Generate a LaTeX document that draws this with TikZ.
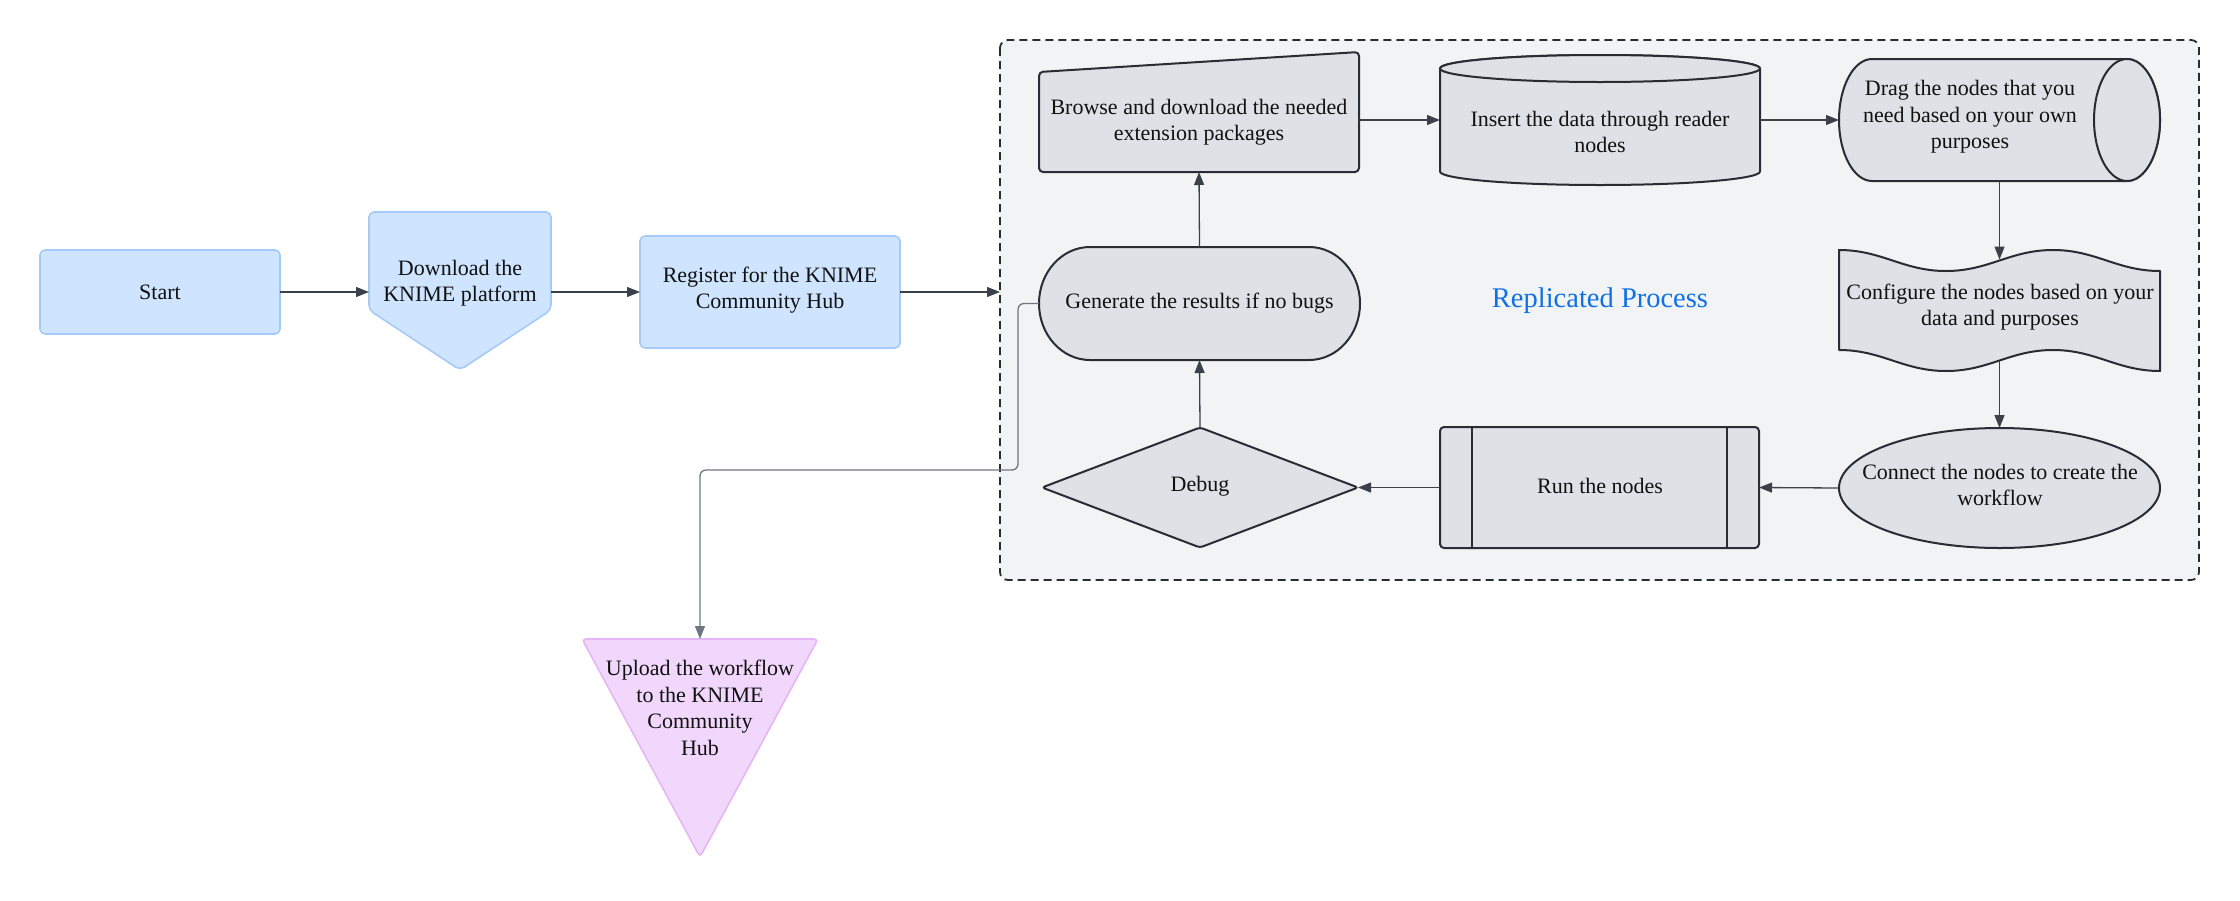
\documentclass[tikz,border=0pt]{standalone}
\usepackage{fontspec}
\setmainfont{Liberation Serif}
\usetikzlibrary{arrows.meta,calc}
\definecolor{bfill}{HTML}{CFE4FF}
\definecolor{bdraw}{HTML}{A6CAF7}
\definecolor{pfill}{HTML}{F2D7FC}
\definecolor{pdraw}{HTML}{E6B5F6}
\definecolor{gfill}{HTML}{DEE1E6}
\definecolor{gdraw}{HTML}{282C33}
\definecolor{cfill}{HTML}{F2F3F5}
\definecolor{arrowc}{HTML}{3A414A}
\definecolor{lightarr}{HTML}{6F7681}
\definecolor{txt}{HTML}{111111}
\definecolor{titleblue}{HTML}{1071E5}
\begin{document}
\begin{tikzpicture}[x=1pt,y=-1pt,
  lbl/.style={align=center, font=\fontsize{22}{26.5}\selectfont, text=txt, inner sep=0pt},
  sbox/.style={draw=none, fill=none, inner sep=0pt, outer sep=0pt, rectangle},
  arr/.style={draw=arrowc, line width=1.3pt, -{Triangle[length=13pt,width=10pt]}},
  garr/.style={draw=lightarr, line width=1.3pt, rounded corners=6pt, -{Triangle[length=13pt,width=10pt]}},
  gnode/.style={fill=gfill, draw=gdraw, line width=2pt, line join=round},
  bnode/.style={fill=bfill, draw=bdraw, line width=1.6pt, rounded corners=5pt},
  pnode/.style={fill=pfill, draw=pdraw, line width=1.6pt, rounded corners=4pt}]
\useasboundingbox (0,0) rectangle (2240,900);

% container
\node[sbox, minimum width=1199pt, minimum height=540pt] (proc) at (1599.5,310) {};
\draw[fill=cfill, draw=gdraw, line width=1.8pt, dash pattern=on 8pt off 5pt, rounded corners=8pt]
  (1000,40) rectangle (2199,580);
\node[font=\fontsize{28.5}{34}\selectfont, text=titleblue, inner sep=0pt] (title) at (1600,301) {Replicated Process};

% Start
\draw[bnode] (40,250) rectangle (280,334);
\node[sbox, minimum width=240pt, minimum height=84pt] (start) at (160,292) {};
\node[lbl] (startT) at (160,292) {Start};

% Download (pentagon)
\draw[bnode] (369,212) -- (551,212) -- (551,310) -- (460,370) -- (369,310) -- cycle;
\node[sbox, minimum width=182pt, minimum height=158pt] (dl) at (460,291) {};
\node[lbl] (dlT) at (460,283) {Download the\\KNIME platform};

% Register
\draw[bnode] (640,236) rectangle (900,348);
\node[sbox, minimum width=260pt, minimum height=112pt] (reg) at (770,292) {};
\node[lbl] (regT) at (770,290) {Register for the KNIME\\Community Hub};

% Browse (manual input)
\draw[gnode, rounded corners=4pt] (1039,72) -- (1359,52) -- (1359,172) -- (1039,172) -- cycle;
\node[sbox, minimum width=320pt, minimum height=120pt] (browse) at (1199,112) {};
\node[lbl] (browseT) at (1199,122) {Browse and download the needed\\extension packages};

% Insert (vertical cylinder)
\draw[gnode] (1440,68.5) -- (1440,171.5)
  .. controls (1440,179) and (1511.6,185) .. (1600,185)
  .. controls (1688.4,185) and (1760,179) .. (1760,171.5)
  -- (1760,68.5)
  .. controls (1760,61) and (1688.4,55) .. (1600,55)
  .. controls (1511.6,55) and (1440,61) .. (1440,68.5) -- cycle;
\draw[gnode] (1600,68.5) ellipse [x radius=160, y radius=13.5];
\node[sbox, minimum width=320pt, minimum height=130pt] (insert) at (1600,120) {};
\node[lbl] (insertT) at (1600,132) {Insert the data through reader\\nodes};

% Drag (horizontal cylinder)
\draw[gnode] (1872,59) -- (2127,59)
  .. controls (2145.2,59) and (2160,86.3) .. (2160,120)
  .. controls (2160,153.7) and (2145.2,181) .. (2127,181)
  -- (1872,181)
  .. controls (1853.8,181) and (1839,153.7) .. (1839,120)
  .. controls (1839,86.3) and (1853.8,59) .. (1872,59) -- cycle;
\draw[gnode] (2127,120) ellipse [x radius=33, y radius=61];
\node[sbox, minimum width=321pt, minimum height=122pt] (drag) at (1999.5,120) {};
\node[lbl] (dragT) at (1970,117) {Drag the nodes that you\\need based on your own\\purposes};

% Configure (tape)
\draw[gnode] (1839,250) .. controls (1882,250) and (1903,271) .. (1946,271)
  .. controls (1989,271) and (2010,250) .. (2053,250)
  .. controls (2096,250) and (2117,271) .. (2160,271)
  -- (2160,371)
  .. controls (2117,371) and (2096,350) .. (2053,350)
  .. controls (2010,350) and (1989,371) .. (1946,371)
  .. controls (1903,371) and (1882,350) .. (1839,350) -- cycle;
\node[sbox, minimum width=321pt, minimum height=121pt] (config) at (1999.5,310.5) {};
\coordinate (cfgtop) at (1999.5,259.5);
\coordinate (cfgbot) at (1999.5,360.5);
\node[lbl] (configT) at (2000,307) {Configure the nodes based on your\\data and purposes};

% Generate (rounded ends)
\draw[gnode] (1090,247) -- (1309,247)
  .. controls (1337.2,247) and (1360,272.3) .. (1360,303.5)
  .. controls (1360,334.7) and (1337.2,360) .. (1309,360)
  -- (1090,360)
  .. controls (1061.8,360) and (1039,334.7) .. (1039,303.5)
  .. controls (1039,272.3) and (1061.8,247) .. (1090,247) -- cycle;
\node[sbox, minimum width=321pt, minimum height=113pt] (gen) at (1199.5,303.5) {};
\node[lbl] (genT) at (1199.5,303) {Generate the results if no bugs};

% Debug (diamond)
\draw[gnode, rounded corners=3pt] (1200,427.5) -- (1358,487.5) -- (1200,547.5) -- (1042,487.5) -- cycle;
\node[sbox, minimum width=316pt, minimum height=120pt] (debug) at (1200,487.5) {};
\node[lbl] (debugT) at (1200,486) {Debug};

% Run (predefined process)
\draw[gnode, rounded corners=4pt] (1440,427) rectangle (1759,548);
\draw[gdraw, line width=2pt] (1472,427) -- (1472,548) (1727,427) -- (1727,548);
\node[sbox, minimum width=319pt, minimum height=121pt] (run) at (1599.5,487.5) {};
\node[lbl] (runT) at (1600,486) {Run the nodes};

% Connect (ellipse)
\draw[gnode] (1999.5,488) ellipse [x radius=160.5, y radius=60];
\node[sbox, minimum width=321pt, minimum height=120pt] (connect) at (1999.5,488) {};
\node[lbl] (connectT) at (2000,485) {Connect the nodes to create the\\workflow};

% Upload (inverted triangle)
\draw[pnode] (582,639) -- (818,639) -- (700,857) -- cycle;
\node[sbox, minimum width=236pt, minimum height=218pt] (upload) at (700,748) {};
\node[lbl] (uploadT) at (700,708) {Upload the workflow\\to the KNIME\\Community\\Hub};

% connectors
\draw[arr] (start.east) -- (dl.west |- start.east);
\draw[arr] (dl.east |- start.east) -- (reg.west |- start.east);
\draw[arr] (reg.east) -- (reg.east -| proc.west);
\draw[arr] (browse.east |- insert.center) -- (insert.west);
\draw[arr] (insert.east) -- (drag.west);
\draw[arr] (drag.south) -- (cfgtop);
\draw[arr] (cfgbot) -- (connect.north);
\draw[arr] (connect.west) -- (run.east);
\draw[arr] (run.west) -- (debug.east);
\draw[arr] (debug.north) -- (gen.south);
\draw[arr] (gen.north) -- (browse.south);
\coordinate (bend1) at (1018,303.5);
\coordinate (bend2) at (1018,470);
\coordinate (bend3) at (700,470);
\draw[garr] (gen.west) -- (bend1) -- (bend2) -- (bend3) -- (upload.north);
\end{tikzpicture}
\end{document}
